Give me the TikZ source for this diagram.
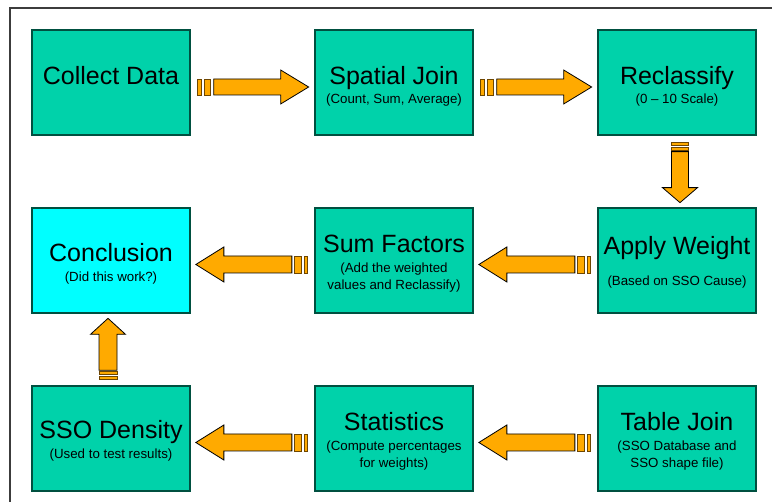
\documentclass[tikz,border=0pt]{standalone}
\usepackage{fontspec}
\setmainfont{Liberation Sans}
\usetikzlibrary{calc}

\definecolor{boxteal}{RGB}{0,210,170}
\definecolor{boxcyan}{RGB}{0,255,255}
\definecolor{boxedge}{RGB}{0,80,64}
\definecolor{arroworange}{RGB}{255,170,0}
\definecolor{stripeedge}{RGB}{110,70,0}
\definecolor{framegray}{RGB}{60,60,60}

\tikzset{
  stepbox/.style={draw=boxedge, line width=1.3pt, fill=boxteal,
    minimum width=158pt, minimum height=105pt, inner sep=0pt},
  ttl/.style={anchor=base, inner sep=0pt, font=\fontsize{25}{30}\selectfont},
  sub/.style={anchor=base, inner sep=0pt, font=\fontsize{13.3}{17}\selectfont},
  arrowbody/.style={fill=arroworange, draw=black, line width=0.8pt, line join=miter},
  arrowstripe/.style={fill=arroworange, draw=stripeedge, line width=0.8pt},
}

% Striped block arrow: #1 tail point, #2 direction angle, #3 total length,
% #4 head length, #5 half body width, #6 half head width,
% #7 first stripe width, #8 gap, #9 second stripe width
\newcommand\stripedarrow[9]{%
  \begin{scope}[shift={#1}, rotate=#2]
    \pgfmathsetmacro\sa{#7}
    \pgfmathsetmacro\sb{#7+#8}
    \pgfmathsetmacro\sc{#7+#8+#9}
    \pgfmathsetmacro\bs{#7+2*#8+#9}
    \pgfmathsetmacro\hb{#3-#4}
    \filldraw[arrowstripe] (0,-#5) rectangle (\sa,#5);
    \filldraw[arrowstripe] (\sb,-#5) rectangle (\sc,#5);
    \filldraw[arrowbody] (\bs,-#5) -- (\hb,-#5) -- (\hb,-#6) -- (#3,0)
      -- (\hb,#6) -- (\hb,#5) -- (\bs,#5) -- cycle;
  \end{scope}}

\begin{document}
\begin{tikzpicture}[x=1pt, y=-1pt]
  \useasboundingbox (0,0) rectangle (772,502);
  \clip (0,0) rectangle (772,502);
  \fill[white] (0,0) rectangle (772,502);

  % outer frame, running past the right and bottom edges
  \draw[framegray, line width=1.8pt] (10,8) rectangle (800,530);

  % process boxes
  \node[stepbox] (collect)    at (111,82.5)  {};
  \node[stepbox] (spatial)    at (394,82.5)  {};
  \node[stepbox] (reclass)    at (677,82.5)  {};
  \node[stepbox, fill=boxcyan] (conclusion) at (111,260.5) {};
  \node[stepbox] (sumfac)     at (394,260.5) {};
  \node[stepbox] (apply)      at (677,260.5) {};
  \node[stepbox] (density)    at (111,438.5) {};
  \node[stepbox] (stats)      at (394,438.5) {};
  \node[stepbox] (tablejoin)  at (677,438.5) {};

  % box texts
  \node[ttl] (collect-t) at ([yshift=-55pt]collect.north) {Collect Data};

  \node[ttl] (spatial-t) at ([yshift=-55pt]spatial.north) {Spatial Join};
  \node[sub] (spatial-s) at ([yshift=-74pt]spatial.north) {(Count, Sum, Average)};

  \node[ttl] (reclass-t) at ([yshift=-55pt]reclass.north) {Reclassify};
  \node[sub] (reclass-s) at ([yshift=-74pt]reclass.north) {(0 – 10 Scale)};

  \node[ttl] (conclusion-t) at ([yshift=-54pt]conclusion.north) {Conclusion};
  \node[sub] (conclusion-s) at ([yshift=-74pt]conclusion.north) {(Did this work?)};

  \node[ttl] (sumfac-t)  at ([yshift=-45pt]sumfac.north) {Sum Factors};
  \node[sub] (sumfac-s1) at ([yshift=-65pt]sumfac.north) {(Add the weighted};
  \node[sub] (sumfac-s2) at ([yshift=-82pt]sumfac.north) {values and Reclassify)};

  \node[ttl] (apply-t) at ([yshift=-47pt]apply.north) {Apply Weight};
  \node[sub] (apply-s) at ([yshift=-78pt]apply.north) {(Based on SSO Cause)};

  \node[ttl] (density-t) at ([yshift=-53pt]density.north) {SSO Density};
  \node[sub] (density-s) at ([yshift=-73pt]density.north) {(Used to test results)};

  \node[ttl] (stats-t)  at ([yshift=-45pt]stats.north) {Statistics};
  \node[sub] (stats-s1) at ([yshift=-65pt]stats.north) {(Compute percentages};
  \node[sub] (stats-s2) at ([yshift=-82pt]stats.north) {for weights)};

  \node[ttl] (tablejoin-t)  at ([yshift=-45pt]tablejoin.north) {Table Join};
  \node[sub] (tablejoin-s1) at ([yshift=-65pt]tablejoin.north) {(SSO Database and};
  \node[sub] (tablejoin-s2) at ([yshift=-82pt]tablejoin.north) {SSO shape file)};

  % flow arrows
  \stripedarrow{($(collect.east)+(7,4.5)$)}{0}{111}{28}{8}{17}{3.5}{3}{6.5}
  \stripedarrow{($(spatial.east)+(7,4.5)$)}{0}{111}{28}{8}{17}{3.5}{3}{6.5}
  \stripedarrow{($(reclass.south)+(3,7)$)}{-90}{60}{15}{8.5}{17.5}{3}{1.5}{3}
  \stripedarrow{($(apply.west)+(-6.5,4)$)}{180}{112}{28}{8.5}{17.5}{3.5}{3}{6.5}
  \stripedarrow{($(sumfac.west)+(-6.5,4)$)}{180}{112}{28}{8.5}{17.5}{3.5}{3}{6.5}
  \stripedarrow{($(tablejoin.west)+(-6.5,4)$)}{180}{112}{28}{8.5}{17.5}{3.5}{3}{6.5}
  \stripedarrow{($(stats.west)+(-6.5,4)$)}{180}{112}{28}{8.5}{17.5}{3.5}{3}{6.5}
  \stripedarrow{($(density.north)+(-3,-6)$)}{90}{61}{16}{9}{17.5}{3}{1.5}{3}
\end{tikzpicture}
\end{document}
